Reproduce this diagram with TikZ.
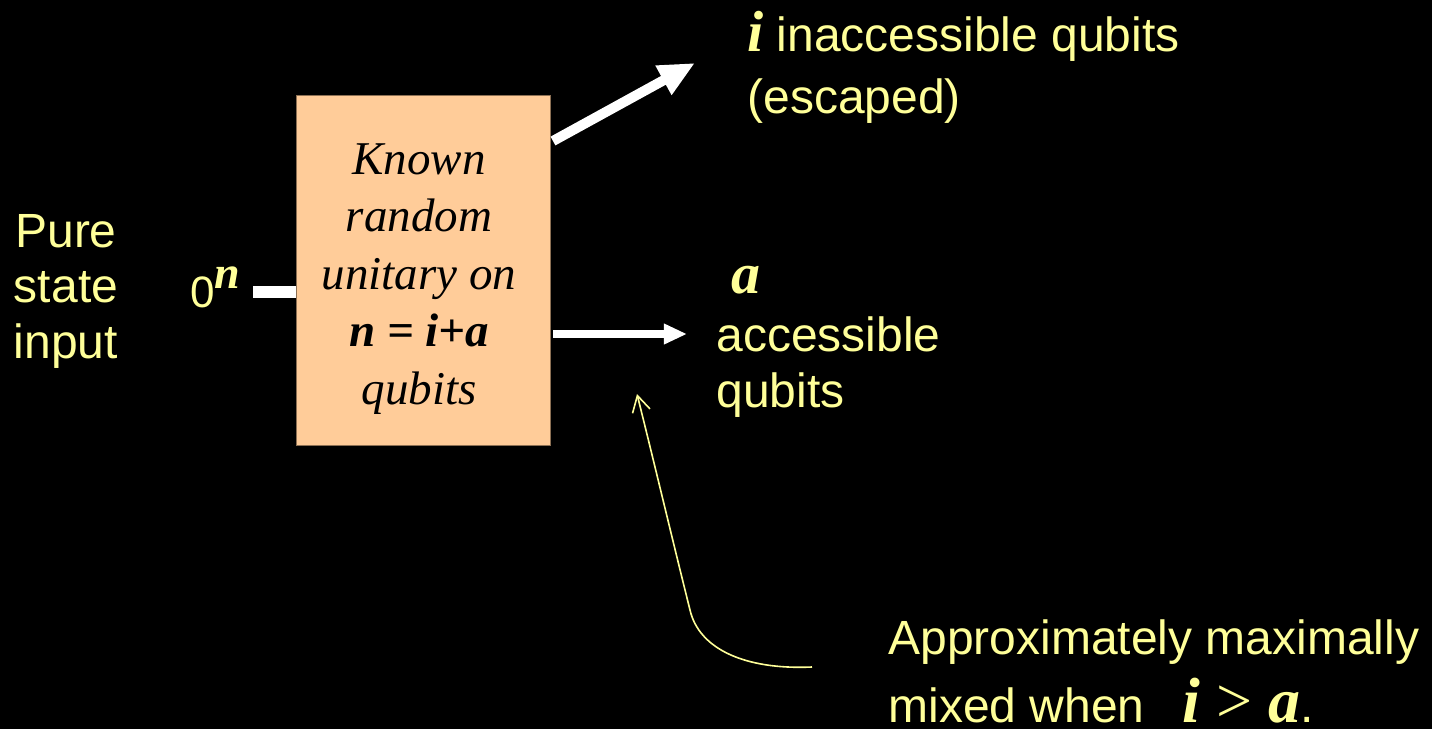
\documentclass[tikz,border=0pt]{standalone}
\usepackage{fontspec}
\setmainfont{Liberation Serif}
\newfontfamily\arialf{Liberation Sans}
\usepackage{xcolor}
\definecolor{yl}{HTML}{FFFF99}
\definecolor{peach}{HTML}{FFCC99}
\usetikzlibrary{arrows.meta}
\newcommand{\bim}[1]{{\rmfamily\bfseries\itshape #1}}
\newcommand{\fsz}[1]{\fontsize{#1}{#1}\selectfont}

\begin{document}
\begin{tikzpicture}[x=0.5pt, y=-0.5pt,
  lbl/.style={inner sep=0pt, text=yl, align=left, font=\arialf\fontsize{24}{27.75}\selectfont},
  ubox/.style={fill=peach, draw=peach!55!black, line width=0.5pt, minimum width=127pt, minimum height=175pt, inner sep=0pt},
  wire/.style={white, line width=6pt},
  escarrow/.style={white, line width=5pt, -{Triangle[length=18pt,width=15.5pt]}},
  accarrow/.style={white, line width=3.6pt, -{Triangle[length=11.6pt,width=9.7pt]}},
  note/.style={yl, line width=0.8pt, -{Straight Barb[length=8pt,width=9pt]}}]
\useasboundingbox (0,0) rectangle (1432,729);
\fill[black] (0,0) rectangle (1432,729);
\node[lbl, align=center, anchor=base] (pure) at (66,358) {Pure\\state\\input};
\node[lbl, anchor=base west] (zero) at (190,307) {\fsz{22}0\raisebox{9.5pt}{\fsz{23}\bim{n}}};
\node[ubox] (box) at (423,270) {};
\node[inner sep=0pt, align=center, font=\itshape\fontsize{23.5}{28.75}\selectfont] (utext) at (419,279) {Known\\random\\unitary on\\\textbf{n = i+a}\\qubits};
\coordinate (src) at (253,292);
\draw[wire] (src) -- (src -| box.west);
\coordinate (eout) at (553,141);
\coordinate (esc) at (695,63);
\draw[escarrow] (eout) -- (esc);
\coordinate (aout) at (553,334);
\coordinate (ain) at (687,334);
\draw[accarrow] (aout) -- (ain);
\node[lbl, anchor=base west] (inacc) at (747,113) {{\fsz{29}\bim{i}} inaccessible qubits\\[3pt](escaped)};
\node[lbl, anchor=base west] (alab) at (731,293) {\fsz{29}\bim{a}};
\node[lbl, anchor=base west] (acc) at (716,407) {accessible\\qubits};
\node[lbl, anchor=base west] (mixed) at (888,722) {Approximately maximally\\[6pt]mixed when\hspace{19pt}{\rmfamily\fsz{32}\bim{i} > \bim{a}}.};
\coordinate (nstart) at (812,667);
\coordinate (ntip) at (637,394);
\draw[note] (nstart) .. controls (745,670) and (699,649) .. (690,610) .. controls (672,538) and (655,466) .. (ntip);
\end{tikzpicture}
\end{document}
